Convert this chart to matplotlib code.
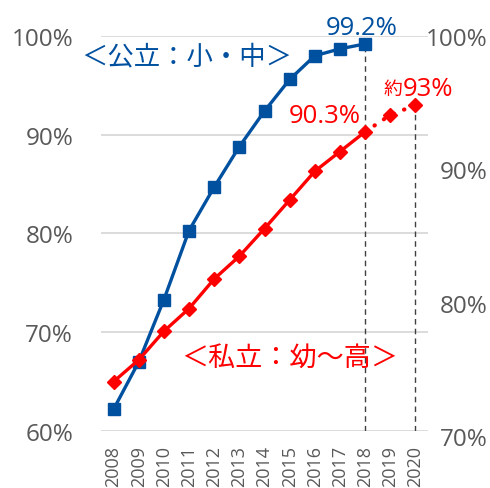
import matplotlib.pyplot as plt
from matplotlib.ticker import FixedLocator, FuncFormatter

# ── Data ──────────────────────────────────────────────────────────────
years = ['2008', '2009', '2010', '2011', '2012', '2013', '2014',
         '2015', '2016', '2017', '2018', '2019', '2020']
public_rate  = [62.2, 67.0, 73.3, 80.3, 84.7, 88.8, 92.4, 95.6, 98.0, 98.7, 99.2]
private_rate = [65.0, 67.2, 70.1, 72.4, 75.4, 77.7, 80.5, 83.4, 86.3, 88.3, 90.3]
private_plan = [90.3, 92.0, 93.0]          # 2018 -> 2020 target
left_ticks  = [60, 70, 80, 90, 100]
right_ticks = [70, 80, 90, 100]

BLUE = '#0050A0'
RED  = '#FF0000'
GRAY = '#595959'
JP = ['Open Sans', 'Noto Sans CJK JP', 'DejaVu Sans']
plt.rcParams['font.family'] = JP

# ── Figure ────────────────────────────────────────────────────────────
fig = plt.figure(figsize=(4.9, 4.89), dpi=100)
W, H = 490, 489
ax = fig.add_axes([101 / W, 57 / H, 327 / W, 395 / H])

x = list(range(len(years)))
n_pub = len(public_rate)
n_prv = len(private_rate)

ax.set_xlim(-0.5, len(years) - 0.5)
ax.set_ylim(left_ticks[0], left_ticks[-1])

for t in left_ticks:
    ax.axhline(t, color='#D9D9D9', lw=1.3, zorder=0)

# dashed guides
ax.vlines(x[n_pub - 1], left_ticks[0], public_rate[-1], colors='#404040',
          linestyles=(0, (4, 3)), lw=1.0, zorder=1)
ax.vlines(x[-1], left_ticks[0], private_plan[-1], colors='#404040',
          linestyles=(0, (4, 3)), lw=1.0, zorder=1)

ax.plot(x[:n_pub], public_rate, color=BLUE, lw=2.4, marker='s', ms=8.5,
        zorder=3)
ax.plot(x[:n_prv], private_rate, color=RED, lw=2.4, marker='D', ms=7,
        zorder=4)
ax.plot(x[n_prv - 1:], private_plan, color=RED, lw=3, ls=(0, (0.1, 2.6)),
        dash_capstyle='round', zorder=4)
ax.plot(x[n_prv:], private_plan[1:], color=RED, lw=0, marker='D', ms=7,
        zorder=4)

for s in ax.spines.values():
    s.set_visible(False)

ax.set_xticks(x)
ax.set_xticklabels(years, rotation=90, fontsize=13, color=GRAY)
ax.yaxis.set_major_locator(FixedLocator(left_ticks))
ax.yaxis.set_major_formatter(FuncFormatter(lambda v, p: f'{v:.0f}%'))
ax.tick_params(axis='y', length=0, pad=20, labelsize=17.5, labelcolor=GRAY)
ax.tick_params(axis='x', length=0, pad=10)

# right-hand scale (separate axes, slightly taller)
ax2 = fig.add_axes([101 / W, 52 / H, 327 / W, 400 / H])
ax2.patch.set_visible(False)
for s in ax2.spines.values():
    s.set_visible(False)
ax2.set_xticks([])
ax2.set_ylim(right_ticks[0], right_ticks[-1])
ax2.yaxis.tick_right()
ax2.yaxis.set_major_locator(FixedLocator(right_ticks))
ax2.yaxis.set_major_formatter(FuncFormatter(lambda v, p: f'{v:.0f}%'))
ax2.tick_params(axis='y', length=0, pad=43, labelsize=17.5, labelcolor=GRAY)
for lab in ax2.get_yticklabels():
    lab.set_horizontalalignment('right')

# ── Annotations ───────────────────────────────────────────────────────
ax.text(x[n_pub - 1] - 0.15, public_rate[-1] + 1.7, '99.2%', color=BLUE,
        fontsize=18.5, ha='center', va='center')
ax.text(x[n_prv - 1] - 1.6, private_rate[-1] + 1.6, '90.3%', color=RED,
        fontsize=18.5, ha='center', va='center')
ax.text(x[-1] + 0.5, private_plan[-1] + 1.7, '93%', color=RED,
        fontsize=18.5, ha='center', va='center')
ax.text(x[-1] - 0.9, private_plan[-1] + 1.6, '約', color=RED,
        fontsize=13.5, ha='center', va='center')
ax.text(2.9, 97.9, '＜公立：小・中＞', color=BLUE, fontsize=19,
        ha='center', va='center')
ax.text(7.0, 67.4, '＜私立：幼〜高＞', color=RED, fontsize=19.5,
        ha='center', va='center')

fig.savefig('out.png', dpi=100)
